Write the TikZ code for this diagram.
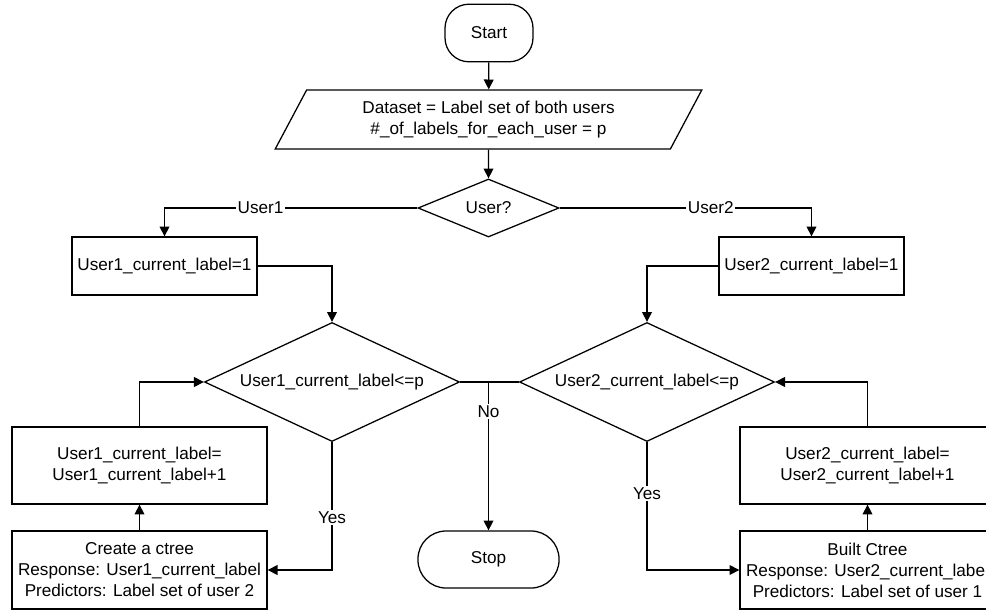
\documentclass[tikz,border=0pt]{standalone}
\usepackage{fontspec}
\setmainfont{Liberation Sans}
\usetikzlibrary{shapes.geometric,arrows.meta}

\begin{document}
\begin{tikzpicture}[x=0.025cm,y=-0.025cm,line width=0.9pt,
            >={Triangle[length=7pt,width=7pt]},
            every node/.style={font=\fontsize{12.2}{14.9}\selectfont},
            term node/.style={draw,rounded corners=0.6cm,minimum height=1.44cm},
            io node/.style={draw,trapezium,trapezium left angle=64,trapezium right angle=116,
                trapezium stretches=true,minimum width=10.675cm,minimum height=1.475cm,align=center},
            test node/.style={draw,diamond,inner sep=0pt},
            proc node/.style={draw,align=center,inner sep=2pt},
            tag/.style={fill=white,inner sep=1pt}]

        \clip (0,0) rectangle (986,611);

        % Define vertices
        \node[term node,minimum width=2.2cm] (start) at (489,33) {Start};
        \node[io node] (data) at (488.5,119.5) {Dataset = Label set of both users\\\#\_of\_labels\_for\_each\_user = p};
        \node[test node,aspect=2.43,minimum width=3.525cm,minimum height=1.45cm] (user) at (488.5,208) {User?};
        \node[proc node,minimum width=4.625cm,minimum height=1.45cm] (init1) at (164.5,266) {User1\_current\_label=1};
        \node[proc node,minimum width=4.625cm,minimum height=1.45cm] (init2) at (811.5,266) {User2\_current\_label=1};
        \node[test node,aspect=2.14,minimum width=6.375cm,minimum height=2.975cm] (cond1) at (332,382) {User1\_current\_label<=p};
        \node[test node,aspect=2.14,minimum width=6.375cm,minimum height=2.975cm] (cond2) at (647,382) {User2\_current\_label<=p};
        \node[proc node,minimum width=6.375cm,minimum height=1.925cm] (inc1) at (139.5,465.5) {User1\_current\_label=\\User1\_current\_label+1};
        \node[proc node,minimum width=6.375cm,minimum height=1.95cm] (tree1) at (139.5,570) {Create a ctree\\Response: User1\_current\_label\\Predictors: Label set of user 2};
        \node[proc node,minimum width=6.375cm,minimum height=1.925cm] (inc2) at (867.5,465.5) {User2\_current\_label=\\User2\_current\_label+1};
        \node[proc node,minimum width=6.375cm,minimum height=1.95cm] (tree2) at (867.5,570) {Built Ctree\\Response: User2\_current\_label\\Predictors: Label set of user 1};
        \node[term node,rounded corners=0.7cm,minimum width=3.525cm,minimum height=1.425cm] (stop) at (488.5,559.5) {Stop};
        \coordinate (join) at (cond1.east -| stop.north);

        % Draw edges
        \path[->]
            (start) edge (data)
            (data) edge (user)
            (tree1) edge (inc1)
            (tree2) edge (inc2);
        \draw[->] (user.west) -| node[tag,pos=0.31] {User1} (init1.north);
        \draw[->] (user.east) -| node[tag,pos=0.3] {User2} (init2.north);
        \draw[->] (init1.east) -| (cond1.north);
        \draw[->] (init2.west) -| (cond2.north);
        \draw[->] (cond1.east) -- (join) -- node[tag,pos=0.2] {No} (stop);
        \draw (cond2.west) -- (join);
        \draw[->] (cond1.south) |- node[tag,pos=0.295] {Yes} (tree1.east);
        \draw[->] (cond2.south) |- node[tag,pos=0.2] {Yes} (tree2.west);
        \draw[->] (inc1.north) |- (cond1.west);
        \draw[->] (inc2.north) |- (cond2.east);

        \end{tikzpicture}
\end{document}
